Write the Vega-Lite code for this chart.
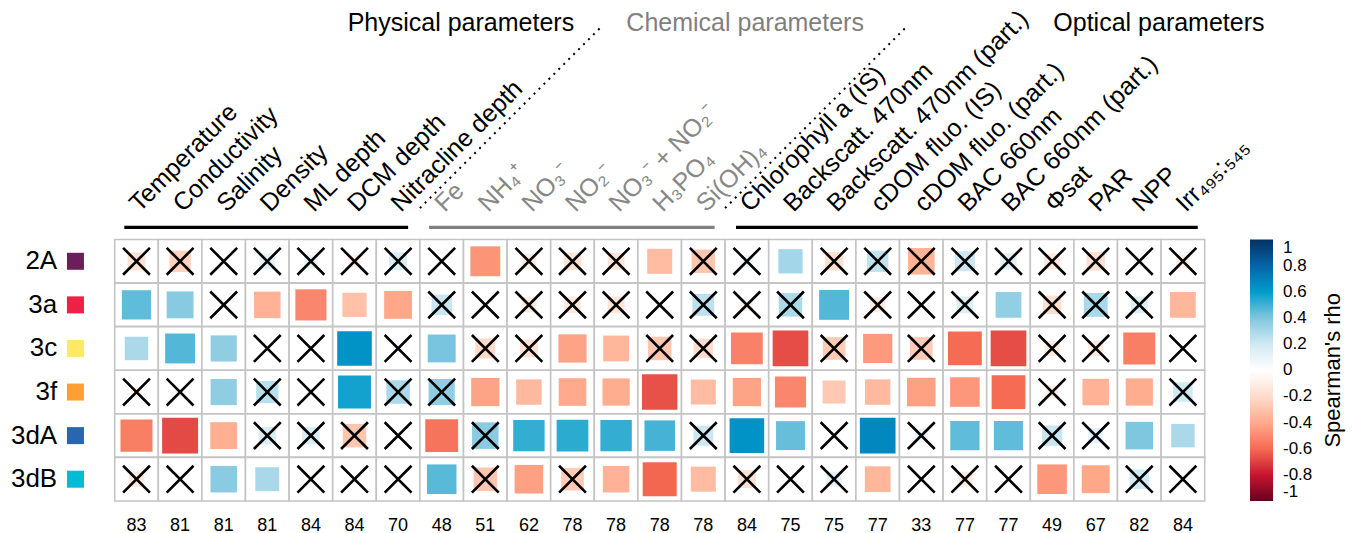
{
  "$schema": "https://vega.github.io/schema/vega-lite/v6.json",
  "width": 1090,
  "height": 261.5,
  "autosize": "none",
  "padding": {"left": 114.7, "top": 239.5, "right": 149.3, "bottom": 32},
  "config": {"font": "Liberation Sans", "view": {"stroke": null}},
  "datasets": {
    "cells": [
      {"r":"2A","c":"Temperature|83|p","v":-0.17,"s":0},
      {"r":"2A","c":"Conductivity|81|p","v":-0.24,"s":0},
      {"r":"2A","c":"Salinity|81|p","v":0.02,"s":0},
      {"r":"2A","c":"Density|81|p","v":0.13,"s":0},
      {"r":"2A","c":"ML depth|84|p","v":0.10,"s":0},
      {"r":"2A","c":"DCM depth|84|p","v":-0.09,"s":0},
      {"r":"2A","c":"Nitracline depth|70|p","v":0.17,"s":0},
      {"r":"2A","c":"Fe|48|c","v":0.02,"s":0},
      {"r":"2A","c":"NH₄⁺|51|c","v":-0.47,"s":1},
      {"r":"2A","c":"NO₃⁻|62|c","v":-0.12,"s":0},
      {"r":"2A","c":"NO₂⁻|78|c","v":-0.16,"s":0},
      {"r":"2A","c":"NO₃⁻ + NO₂⁻|78|c","v":-0.15,"s":0},
      {"r":"2A","c":"H₃PO₄|78|c","v":-0.33,"s":1},
      {"r":"2A","c":"Si(OH)₄|78|c","v":-0.29,"s":0},
      {"r":"2A","c":"Chlorophyll a (IS)|84|o","v":0.09,"s":0},
      {"r":"2A","c":"Backscatt. 470nm|75|o","v":0.31,"s":1},
      {"r":"2A","c":"Backscatt. 470nm (part.)|75|o","v":-0.18,"s":0},
      {"r":"2A","c":"cDOM fluo. (IS)|77|o","v":0.24,"s":0},
      {"r":"2A","c":"cDOM fluo. (part.)|33|o","v":-0.37,"s":0},
      {"r":"2A","c":"BAC 660nm|77|o","v":0.21,"s":0},
      {"r":"2A","c":"BAC 660nm (part.)|77|o","v":0.14,"s":0},
      {"r":"2A","c":"Φsat|49|o","v":-0.13,"s":0},
      {"r":"2A","c":"PAR|67|o","v":-0.18,"s":0},
      {"r":"2A","c":"NPP|82|o","v":-0.06,"s":0},
      {"r":"2A","c":"Irr₄₉₅:₅₄₅|84|o","v":-0.10,"s":0},

      {"r":"3a","c":"Temperature|83|p","v":0.45,"s":1},
      {"r":"3a","c":"Conductivity|81|p","v":0.38,"s":1},
      {"r":"3a","c":"Salinity|81|p","v":-0.05,"s":0},
      {"r":"3a","c":"Density|81|p","v":-0.37,"s":1},
      {"r":"3a","c":"ML depth|84|p","v":-0.51,"s":1},
      {"r":"3a","c":"DCM depth|84|p","v":-0.31,"s":1},
      {"r":"3a","c":"Nitracline depth|70|p","v":-0.41,"s":1},
      {"r":"3a","c":"Fe|48|c","v":0.22,"s":0},
      {"r":"3a","c":"NH₄⁺|51|c","v":-0.02,"s":0},
      {"r":"3a","c":"NO₃⁻|62|c","v":-0.12,"s":0},
      {"r":"3a","c":"NO₂⁻|78|c","v":-0.14,"s":0},
      {"r":"3a","c":"NO₃⁻ + NO₂⁻|78|c","v":-0.15,"s":0},
      {"r":"3a","c":"H₃PO₄|78|c","v":0.02,"s":0},
      {"r":"3a","c":"Si(OH)₄|78|c","v":0.25,"s":0},
      {"r":"3a","c":"Chlorophyll a (IS)|84|o","v":-0.08,"s":0},
      {"r":"3a","c":"Backscatt. 470nm|75|o","v":0.29,"s":0},
      {"r":"3a","c":"Backscatt. 470nm (part.)|75|o","v":0.47,"s":1},
      {"r":"3a","c":"cDOM fluo. (IS)|77|o","v":-0.12,"s":0},
      {"r":"3a","c":"cDOM fluo. (part.)|33|o","v":0.02,"s":0},
      {"r":"3a","c":"BAC 660nm|77|o","v":0.15,"s":0},
      {"r":"3a","c":"BAC 660nm (part.)|77|o","v":0.35,"s":1},
      {"r":"3a","c":"Φsat|49|o","v":-0.18,"s":0},
      {"r":"3a","c":"PAR|67|o","v":0.30,"s":0},
      {"r":"3a","c":"NPP|82|o","v":0.15,"s":0},
      {"r":"3a","c":"Irr₄₉₅:₅₄₅|84|o","v":-0.35,"s":1},

      {"r":"3c","c":"Temperature|83|p","v":0.29,"s":1},
      {"r":"3c","c":"Conductivity|81|p","v":0.47,"s":1},
      {"r":"3c","c":"Salinity|81|p","v":0.36,"s":1},
      {"r":"3c","c":"Density|81|p","v":0.03,"s":0},
      {"r":"3c","c":"ML depth|84|p","v":-0.02,"s":0},
      {"r":"3c","c":"DCM depth|84|p","v":0.63,"s":1},
      {"r":"3c","c":"Nitracline depth|70|p","v":0.05,"s":0},
      {"r":"3c","c":"Fe|48|c","v":0.41,"s":1},
      {"r":"3c","c":"NH₄⁺|51|c","v":-0.21,"s":0},
      {"r":"3c","c":"NO₃⁻|62|c","v":-0.17,"s":0},
      {"r":"3c","c":"NO₂⁻|78|c","v":-0.42,"s":1},
      {"r":"3c","c":"NO₃⁻ + NO₂⁻|78|c","v":-0.35,"s":1},
      {"r":"3c","c":"H₃PO₄|78|c","v":-0.29,"s":0},
      {"r":"3c","c":"Si(OH)₄|78|c","v":-0.20,"s":0},
      {"r":"3c","c":"Chlorophyll a (IS)|84|o","v":-0.53,"s":1},
      {"r":"3c","c":"Backscatt. 470nm|75|o","v":-0.67,"s":1},
      {"r":"3c","c":"Backscatt. 470nm (part.)|75|o","v":-0.27,"s":0},
      {"r":"3c","c":"cDOM fluo. (IS)|77|o","v":-0.45,"s":1},
      {"r":"3c","c":"cDOM fluo. (part.)|33|o","v":-0.27,"s":0},
      {"r":"3c","c":"BAC 660nm|77|o","v":-0.60,"s":1},
      {"r":"3c","c":"BAC 660nm (part.)|77|o","v":-0.67,"s":1},
      {"r":"3c","c":"Φsat|49|o","v":-0.12,"s":0},
      {"r":"3c","c":"PAR|67|o","v":-0.12,"s":0},
      {"r":"3c","c":"NPP|82|o","v":-0.54,"s":1},
      {"r":"3c","c":"Irr₄₉₅:₅₄₅|84|o","v":-0.02,"s":0},

      {"r":"3f","c":"Temperature|83|p","v":-0.06,"s":0},
      {"r":"3f","c":"Conductivity|81|p","v":0.05,"s":0},
      {"r":"3f","c":"Salinity|81|p","v":0.36,"s":1},
      {"r":"3f","c":"Density|81|p","v":0.26,"s":0},
      {"r":"3f","c":"ML depth|84|p","v":0.02,"s":0},
      {"r":"3f","c":"DCM depth|84|p","v":0.57,"s":1},
      {"r":"3f","c":"Nitracline depth|70|p","v":0.29,"s":0},
      {"r":"3f","c":"Fe|48|c","v":0.36,"s":0},
      {"r":"3f","c":"NH₄⁺|51|c","v":-0.42,"s":1},
      {"r":"3f","c":"NO₃⁻|62|c","v":-0.34,"s":1},
      {"r":"3f","c":"NO₂⁻|78|c","v":-0.40,"s":1},
      {"r":"3f","c":"NO₃⁻ + NO₂⁻|78|c","v":-0.39,"s":1},
      {"r":"3f","c":"H₃PO₄|78|c","v":-0.66,"s":1},
      {"r":"3f","c":"Si(OH)₄|78|c","v":-0.33,"s":1},
      {"r":"3f","c":"Chlorophyll a (IS)|84|o","v":-0.42,"s":1},
      {"r":"3f","c":"Backscatt. 470nm|75|o","v":-0.51,"s":1},
      {"r":"3f","c":"Backscatt. 470nm (part.)|75|o","v":-0.28,"s":1},
      {"r":"3f","c":"cDOM fluo. (IS)|77|o","v":-0.34,"s":1},
      {"r":"3f","c":"cDOM fluo. (part.)|33|o","v":-0.43,"s":1},
      {"r":"3f","c":"BAC 660nm|77|o","v":-0.46,"s":1},
      {"r":"3f","c":"BAC 660nm (part.)|77|o","v":-0.60,"s":1},
      {"r":"3f","c":"Φsat|49|o","v":-0.09,"s":0},
      {"r":"3f","c":"PAR|67|o","v":-0.37,"s":1},
      {"r":"3f","c":"NPP|82|o","v":-0.39,"s":1},
      {"r":"3f","c":"Irr₄₉₅:₅₄₅|84|o","v":0.20,"s":0},

      {"r":"3dA","c":"Temperature|83|p","v":-0.54,"s":1},
      {"r":"3dA","c":"Conductivity|81|p","v":-0.68,"s":1},
      {"r":"3dA","c":"Salinity|81|p","v":-0.38,"s":1},
      {"r":"3dA","c":"Density|81|p","v":0.16,"s":0},
      {"r":"3dA","c":"ML depth|84|p","v":0.16,"s":0},
      {"r":"3dA","c":"DCM depth|84|p","v":-0.29,"s":0},
      {"r":"3dA","c":"Nitracline depth|70|p","v":0.02,"s":0},
      {"r":"3dA","c":"Fe|48|c","v":-0.57,"s":1},
      {"r":"3dA","c":"NH₄⁺|51|c","v":0.37,"s":0},
      {"r":"3dA","c":"NO₃⁻|62|c","v":0.52,"s":1},
      {"r":"3dA","c":"NO₂⁻|78|c","v":0.53,"s":1},
      {"r":"3dA","c":"NO₃⁻ + NO₂⁻|78|c","v":0.52,"s":1},
      {"r":"3dA","c":"H₃PO₄|78|c","v":0.49,"s":1},
      {"r":"3dA","c":"Si(OH)₄|78|c","v":0.21,"s":0},
      {"r":"3dA","c":"Chlorophyll a (IS)|84|o","v":0.63,"s":1},
      {"r":"3dA","c":"Backscatt. 470nm|75|o","v":0.44,"s":1},
      {"r":"3dA","c":"Backscatt. 470nm (part.)|75|o","v":-0.03,"s":0},
      {"r":"3dA","c":"cDOM fluo. (IS)|77|o","v":0.67,"s":1},
      {"r":"3dA","c":"cDOM fluo. (part.)|33|o","v":0.09,"s":0},
      {"r":"3dA","c":"BAC 660nm|77|o","v":0.45,"s":1},
      {"r":"3dA","c":"BAC 660nm (part.)|77|o","v":0.45,"s":1},
      {"r":"3dA","c":"Φsat|49|o","v":0.22,"s":0},
      {"r":"3dA","c":"PAR|67|o","v":0.12,"s":0},
      {"r":"3dA","c":"NPP|82|o","v":0.40,"s":1},
      {"r":"3dA","c":"Irr₄₉₅:₅₄₅|84|o","v":0.29,"s":1},

      {"r":"3dB","c":"Temperature|83|p","v":-0.13,"s":0},
      {"r":"3dB","c":"Conductivity|81|p","v":-0.02,"s":0},
      {"r":"3dB","c":"Salinity|81|p","v":0.37,"s":1},
      {"r":"3dB","c":"Density|81|p","v":0.30,"s":1},
      {"r":"3dB","c":"ML depth|84|p","v":-0.04,"s":0},
      {"r":"3dB","c":"DCM depth|84|p","v":-0.05,"s":0},
      {"r":"3dB","c":"Nitracline depth|70|p","v":0.02,"s":0},
      {"r":"3dB","c":"Fe|48|c","v":0.46,"s":1},
      {"r":"3dB","c":"NH₄⁺|51|c","v":-0.29,"s":0},
      {"r":"3dB","c":"NO₃⁻|62|c","v":-0.43,"s":1},
      {"r":"3dB","c":"NO₂⁻|78|c","v":-0.27,"s":0},
      {"r":"3dB","c":"NO₃⁻ + NO₂⁻|78|c","v":-0.37,"s":1},
      {"r":"3dB","c":"H₃PO₄|78|c","v":-0.61,"s":1},
      {"r":"3dB","c":"Si(OH)₄|78|c","v":-0.33,"s":1},
      {"r":"3dB","c":"Chlorophyll a (IS)|84|o","v":-0.17,"s":0},
      {"r":"3dB","c":"Backscatt. 470nm|75|o","v":-0.02,"s":0},
      {"r":"3dB","c":"Backscatt. 470nm (part.)|75|o","v":0.12,"s":0},
      {"r":"3dB","c":"cDOM fluo. (IS)|77|o","v":-0.35,"s":1},
      {"r":"3dB","c":"cDOM fluo. (part.)|33|o","v":0.02,"s":0},
      {"r":"3dB","c":"BAC 660nm|77|o","v":-0.12,"s":0},
      {"r":"3dB","c":"BAC 660nm (part.)|77|o","v":-0.02,"s":0},
      {"r":"3dB","c":"Φsat|49|o","v":-0.46,"s":1},
      {"r":"3dB","c":"PAR|67|o","v":-0.41,"s":1},
      {"r":"3dB","c":"NPP|82|o","v":0.20,"s":0},
      {"r":"3dB","c":"Irr₄₉₅:₅₄₅|84|o","v":-0.03,"s":0}
    ],
    "rows": [
      {"row":"2A"},{"row":"3a"},{"row":"3c"},{"row":"3f"},{"row":"3dA"},{"row":"3dB"}
    ]
  },
  "layer": [
    {
      "data": {"name": "cells"},
      "layer": [
        {
          "mark": {"type": "rect", "fill": "#ffffff", "stroke": "#C4C4C4", "strokeWidth": 1.6},
          "encoding": {
            "x": {"field": "c", "type": "nominal", "sort": null,
              "scale": {"type": "band", "paddingInner": 0, "paddingOuter": 0},
              "axis": {"orient": "top", "title": null, "domain": false, "ticks": false,
                "labelAngle": -45, "labelAlign": "left", "labelBaseline": "alphabetic",
                "labelFontSize": 25, "labelPadding": 27, "labelOffset": 3,
                "labelLimit": 0, "labelOverlap": false, "labelBound": false,
                "labelExpr": "split(datum.value, '|')[0]",
                "labelColor": {"condition": {"test": "split(datum.value, '|')[2] == 'c'", "value": "#878787"}, "value": "#000000"}}},
            "y": {"field": "r", "type": "nominal", "sort": null,
              "scale": {"type": "band", "paddingInner": 0, "paddingOuter": 0},
              "axis": {"title": null, "domain": false, "ticks": false, "labelFontSize": 26,
                "labelPadding": 58, "labelColor": "#000000"}}
          }
        },
        {
          "mark": {"type": "square", "opacity": 1},
          "encoding": {
            "x": {"field": "c", "type": "nominal", "sort": null, "axis": null},
            "y": {"field": "r", "type": "nominal", "sort": null},
            "size": {"field": "v", "type": "quantitative",
              "scale": {"type": "linear", "domain": [-1, 0, 1], "range": [1900, 0, 1900]}, "legend": null},
            "color": {"field": "v", "type": "quantitative",
              "scale": {"domain": [-1, -0.8, -0.6, -0.4, -0.2, 0, 0.2, 0.4, 0.6, 0.8, 1],
                "range": ["#67001F", "#C8152F", "#F56B53", "#FFAA8C", "#FFDCCB", "#FFFFFF", "#D0E9F3", "#7FC6DF", "#009CCA", "#0563A8", "#053061"],
                "interpolate": "rgb"},
              "legend": {"orient": "none", "legendX": 1135.3, "legendY": 0, "direction": "vertical",
                "gradientLength": 261.5, "gradientThickness": 23, "padding": 0,
                "values": [1, 0.8, 0.6, 0.4, 0.2, 0, -0.2, -0.4, -0.6, -0.8, -1],
                "labelExpr": "replace(format(datum.value, '.1~f'), '\u2212', '-')",
                "labelFontSize": 17, "labelOffset": 10, "labelColor": "#000000",
                "title": null}}
          }
        },
        {
          "transform": [{"filter": "datum.s == 0"}],
          "mark": {"type": "point", "shape": "M-1,-1L1,1M-1,1L1,-1", "filled": false, "stroke": "#000000", "strokeWidth": 2.6, "size": 720, "opacity": 1},
          "encoding": {
            "x": {"field": "c", "type": "nominal", "sort": null,
              "axis": {"orient": "bottom", "title": null, "domain": false, "ticks": false,
                "labelAngle": 0, "labelFontSize": 18, "labelPadding": 15, "labelColor": "#000000",
                "labelExpr": "split(datum.value, '|')[1]", "labelOverlap": false}},
            "y": {"field": "r", "type": "nominal", "sort": null}
          }
        }
      ],
      "resolve": {"axis": {"x": "independent"}}
    },
    {
      "data": {"name": "rows"},
      "mark": {"type": "square", "size": 289, "opacity": 1},
      "encoding": {
        "x": {"datum": -0.9, "type": "quantitative", "scale": {"domain": [0, 25], "nice": false, "zero": false}, "axis": null},
        "y": {"field": "row", "type": "nominal", "sort": null, "scale": {"type": "band", "paddingInner": 0, "paddingOuter": 0}, "axis": null},
        "color": {"field": "row", "type": "nominal", "sort": null,
          "scale": {"domain": ["2A", "3a", "3c", "3f", "3dA", "3dB"], "range": ["#6B1E59", "#F01F45", "#FFE866", "#FF9E33", "#2766B0", "#00BCD4"]},
          "legend": null}
      }
    },
    {
      "data": {"values": [{}]},
      "layer": [
        {
          "mark": {"type": "rule", "strokeWidth": 3.2, "color": "#000000"},
          "encoding": {
            "x": {"datum": 0.22, "type": "quantitative", "scale": {"domain": [0, 25], "nice": false, "zero": false}, "axis": null},
            "x2": {"datum": 6.73},
            "y": {"datum": 6.28, "type": "quantitative", "scale": {"domain": [0, 6], "nice": false, "zero": false}, "axis": null}
          }
        },
        {
          "mark": {"type": "rule", "strokeWidth": 3.2, "color": "#808080"},
          "encoding": {
            "x": {"datum": 7.21, "type": "quantitative"},
            "x2": {"datum": 13.76},
            "y": {"datum": 6.28, "type": "quantitative"}
          }
        },
        {
          "mark": {"type": "rule", "strokeWidth": 3.2, "color": "#000000"},
          "encoding": {
            "x": {"datum": 14.25, "type": "quantitative"},
            "x2": {"datum": 24.84},
            "y": {"datum": 6.28, "type": "quantitative"}
          }
        },
        {
          "mark": {"type": "rule", "strokeWidth": 2, "strokeDash": [2, 5], "color": "#000000"},
          "encoding": {
            "x": {"datum": 7.0, "type": "quantitative"},
            "x2": {"datum": 11.13},
            "y": {"datum": 6.72, "type": "quantitative"},
            "y2": {"datum": 10.85}
          }
        },
        {
          "mark": {"type": "rule", "strokeWidth": 2, "strokeDash": [2, 5], "color": "#000000"},
          "encoding": {
            "x": {"datum": 14.0, "type": "quantitative"},
            "x2": {"datum": 18.13},
            "y": {"datum": 6.72, "type": "quantitative"},
            "y2": {"datum": 10.85}
          }
        },
        {
          "mark": {"type": "text", "fontSize": 25, "align": "center", "baseline": "alphabetic", "color": "#000000"},
          "encoding": {
            "text": {"value": "Physical parameters"},
            "x": {"datum": 7.94, "type": "quantitative"},
            "y": {"datum": 10.78, "type": "quantitative"}
          }
        },
        {
          "mark": {"type": "text", "fontSize": 25, "align": "center", "baseline": "alphabetic", "color": "#7F7F7F"},
          "encoding": {
            "text": {"value": "Chemical parameters"},
            "x": {"datum": 14.46, "type": "quantitative"},
            "y": {"datum": 10.78, "type": "quantitative"}
          }
        },
        {
          "mark": {"type": "text", "fontSize": 25, "align": "center", "baseline": "alphabetic", "color": "#000000"},
          "encoding": {
            "text": {"value": "Optical parameters"},
            "x": {"datum": 23.95, "type": "quantitative"},
            "y": {"datum": 10.78, "type": "quantitative"}
          }
        },
        {
          "mark": {"type": "text", "fontSize": 22, "align": "center", "baseline": "middle", "angle": 270, "color": "#000000"},
          "encoding": {
            "text": {"value": "Spearman's rho"},
            "x": {"datum": 27.94, "type": "quantitative"},
            "y": {"datum": 3.0, "type": "quantitative"}
          }
        }
      ]
    }
  ],
  "resolve": {"scale": {"x": "independent", "y": "independent", "color": "independent", "size": "independent"}}
}
